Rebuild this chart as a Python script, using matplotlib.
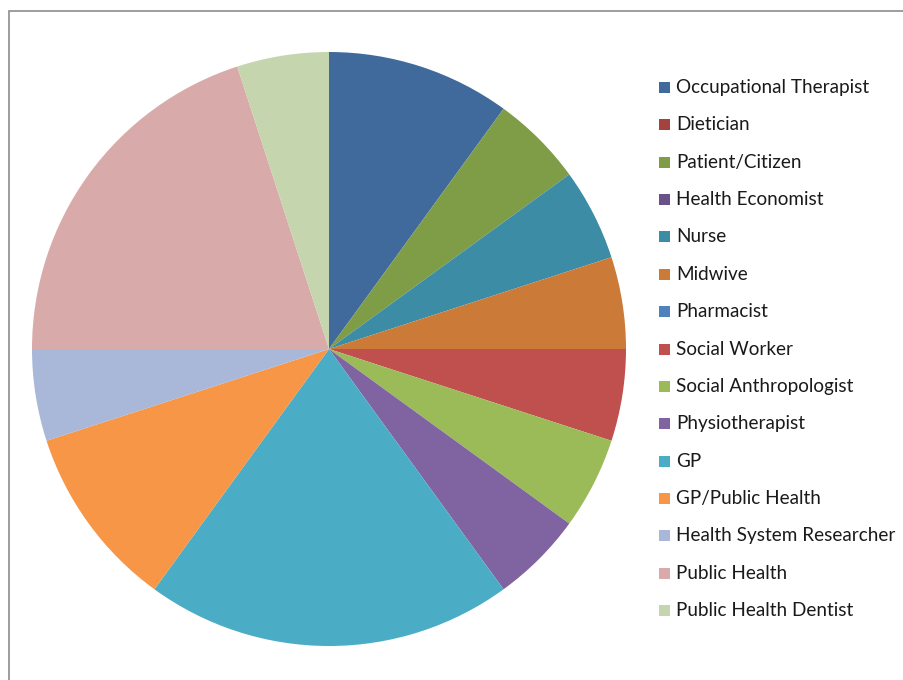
import matplotlib.pyplot as plt
from matplotlib.patches import Rectangle

labels = ['Occupational Therapist', 'Dietician', 'Patient/Citizen', 'Health Economist',
          'Nurse', 'Midwive', 'Pharmacist', 'Social Worker', 'Social Anthropologist',
          'Physiotherapist', 'GP', 'GP/Public Health', 'Health System Researcher',
          'Public Health', 'Public Health Dentist']
counts = [2, 0, 1, 0, 1, 1, 0, 1, 1, 1, 4, 2, 1, 4, 1]
colors = ['#416A9C', '#A3423F', '#7F9C46', '#6A5189', '#3B8CA4', '#CB7A37',
          '#4F81BD', '#C0504D', '#9BBB59', '#8064A2', '#4BACC6', '#F79646',
          '#A9B8D8', '#D9AAAA', '#C5D6AE']

W, H = 904, 680
fig = plt.figure(figsize=(W / 100, H / 100), dpi=100)

# chart frame, cut off on the right and bottom
fig.patches.append(Rectangle((8.5 / W, -0.1), 1.2, (H - 11) / H + 0.1,
                             transform=fig.transFigure, fill=False,
                             edgecolor='#8c8c8c', linewidth=1.2))

cx, cy, r = 329, 349, 297
ax = fig.add_axes([(cx - r) / W, (H - cy - r) / H, 2 * r / W, 2 * r / H])
ax.pie(counts, colors=colors, startangle=90, counterclock=False,
       wedgeprops=dict(linewidth=0), radius=1)
ax.set_xlim(-1, 1)
ax.set_ylim(-1, 1)
ax.set_aspect('equal')
ax.axis('off')

# legend
y0, step = 87.5, 37.36
for i, (lab, col) in enumerate(zip(labels, colors)):
    y = y0 + i * step
    fig.patches.append(Rectangle((659 / W, (H - y - 5.5) / H), 11 / W, 11 / H,
                                 transform=fig.transFigure, facecolor=col,
                                 edgecolor='none'))
    fig.text(676 / W, (H - y) / H, lab, fontsize=13.6, family='Lato',
             color='#1a1a1a', va='center', ha='left')

fig.savefig('out.png', dpi=100)
